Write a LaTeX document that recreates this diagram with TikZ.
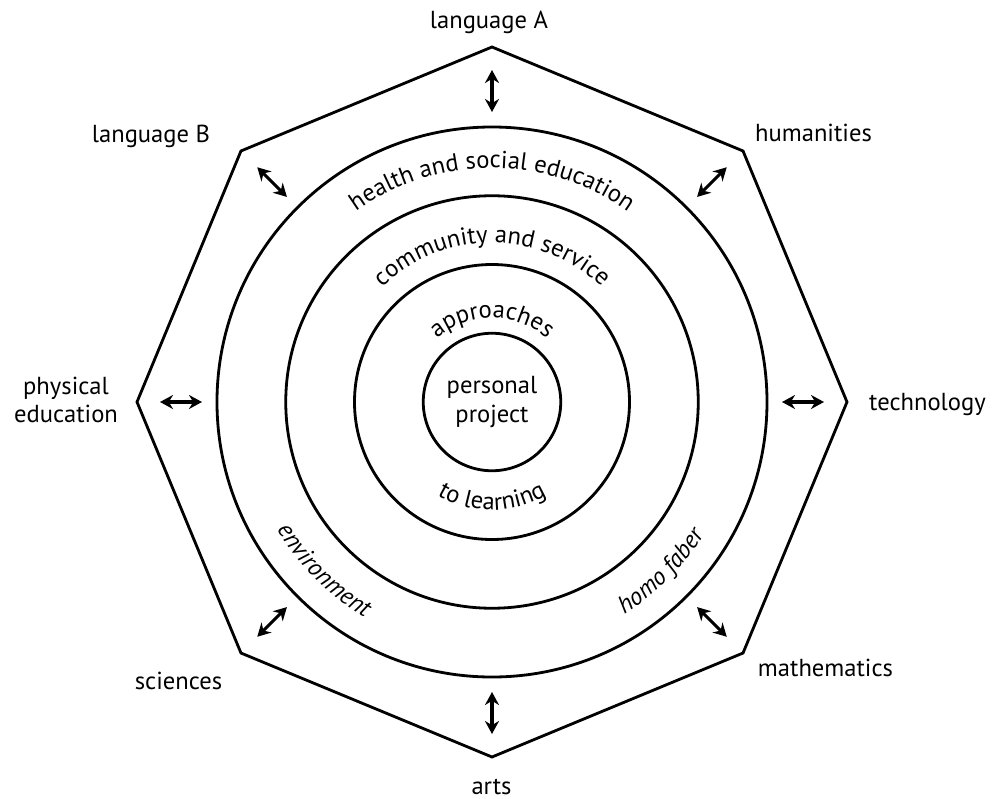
\documentclass[tikz,border=0pt]{standalone}
\usepackage{fontspec}
\setmainfont{PT Sans}
\usepackage{tikz}
\usetikzlibrary{arrows.meta,decorations.text}

\newcommand{\ringfont}{\fontsize{14}{16}\selectfont}

\tikzset{
  frame/.style={line width=1.6pt, line join=miter},
  ring/.style={circle, draw, line width=1.6pt, inner sep=0pt},
  link/.style={{Stealth[length=2.6mm,width=2.8mm]}-{Stealth[length=2.6mm,width=2.8mm]}, line width=1.8pt},
  subject/.style={font=\ringfont, anchor=base, inner sep=0pt},
}

\begin{document}
\begin{tikzpicture}
\useasboundingbox (-9.84,-7.92) rectangle (10.06,8.04);

% === OCTAGON: subject groups ===
\draw[frame] (90:7.1) -- (45:7.1) -- (0:7.1) -- (-45:7.1) -- (-90:7.1) -- (-135:7.1) -- (180:7.1) -- (135:7.1) -- cycle;

% === RINGS (areas of interaction) ===
\node[ring, minimum size=11cm] (outer) at (0,0) {};
\node[ring, minimum size=8.25cm] (middle) at (0,0) {};
\node[ring, minimum size=5.5cm] (inner) at (0,0) {};
\node[ring, minimum size=2.75cm, font=\ringfont, align=center] (core) at (0,0) {personal\\project};

% Ring labels along the arcs
\path[decorate, decoration={text along path, text align=center, text={|\ringfont|health and social education}}] (180:4.68) arc[start angle=180, end angle=0, radius=4.68];
\path[decorate, decoration={text along path, text align=center, text={|\ringfont|community and service}}] (180:3.18) arc[start angle=180, end angle=0, radius=3.18];
\path[decorate, decoration={text along path, text align=center, text={|\ringfont|approaches}}] (180:1.68) arc[start angle=180, end angle=0, radius=1.68];
\path[decorate, decoration={text along path, text align=center, text={|\ringfont|to learning}}] (180:2.16) arc[start angle=180, end angle=360, radius=2.16];
\path[decorate, decoration={text along path, text align=center, text={|\ringfont\itshape|environment}}] (135:5.0) arc[start angle=135, end angle=315, radius=5.0];
\path[decorate, decoration={text along path, text align=center, text={|\ringfont\itshape|homo faber}}] (225:5.0) arc[start angle=225, end angle=405, radius=5.0];

% === ARROWS between rings and octagon ===
\coordinate (langA-i) at (90:5.8);   \coordinate (langA-o) at (90:6.64);
\coordinate (hum-i) at (45:5.8);     \coordinate (hum-o) at (45:6.64);
\coordinate (tech-i) at (0:5.8);     \coordinate (tech-o) at (0:6.64);
\coordinate (math-i) at (-45:5.8);   \coordinate (math-o) at (-45:6.64);
\coordinate (arts-i) at (-90:5.8);   \coordinate (arts-o) at (-90:6.64);
\coordinate (sci-i) at (-135:5.8);   \coordinate (sci-o) at (-135:6.64);
\coordinate (pe-i) at (180:5.8);     \coordinate (pe-o) at (180:6.64);
\coordinate (langB-i) at (135:5.8);  \coordinate (langB-o) at (135:6.64);
\draw[link] (langA-i) -- (langA-o);
\draw[link] (hum-i) -- (hum-o);
\draw[link] (tech-i) -- (tech-o);
\draw[link] (math-i) -- (math-o);
\draw[link] (arts-i) -- (arts-o);
\draw[link] (sci-i) -- (sci-o);
\draw[link] (pe-i) -- (pe-o);
\draw[link] (langB-i) -- (langB-o);

% === SUBJECT LABELS ===
\node[subject] (langA) at (-0.06,7.46) {language A};
\node[subject] (hum) at (6.43,5.2) {humanities};
\node[subject] (tech) at (8.71,-0.16) {technology};
\node[subject] (math) at (6.67,-5.48) {mathematics};
\node[subject] (arts) at (-0.01,-7.84) {arts};
\node[subject] (sci) at (-6.27,-5.74) {sciences};
\node[font=\ringfont, align=center] (pe) at (-8.52,0.04) {physical\\education};
\node[subject] (langB) at (-6.82,5.18) {language B};

\end{tikzpicture}
\end{document}
